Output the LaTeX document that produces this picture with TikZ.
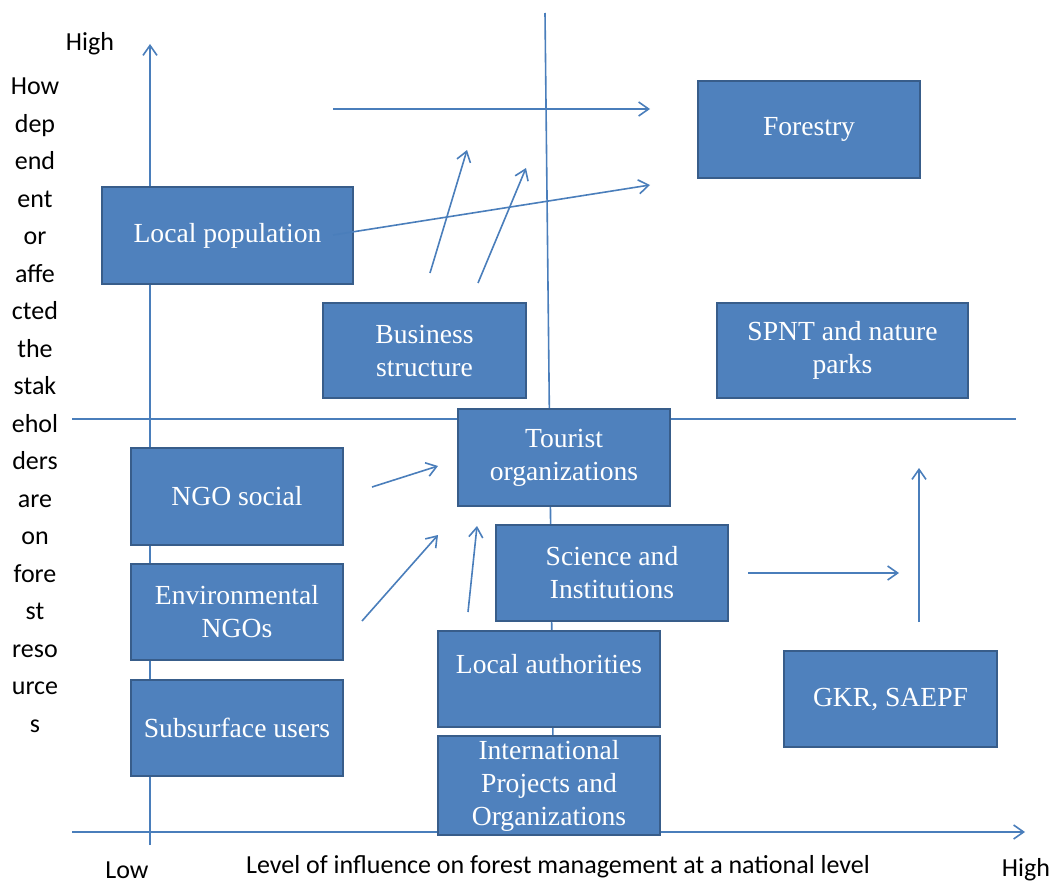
\documentclass[tikz,border=0pt]{standalone}
\usepackage{fontspec}
\setmainfont{Liberation Serif}
\newfontfamily\axisfont{Carlito}
\usepackage{xcolor}
\usetikzlibrary{arrows.meta,positioning,calc}
\definecolor{boxfill}{HTML}{4F81BD}
\definecolor{boxline}{HTML}{385D8A}
\definecolor{linkcol}{HTML}{4A7EBB}

\begin{document}
\begin{tikzpicture}[x=0.5pt,y=-0.5pt,
  stake/.style={draw=boxline,line width=1.4pt,fill=boxfill,text=white,align=center,
    font=\fontsize{13.8}{16.5}\selectfont,inner sep=2pt},
  link/.style={draw=linkcol,line width=0.8pt,-{Straight Barb[length=5pt,width=7pt]}},
  axis/.style={font=\axisfont\fontsize{13}{18.75}\selectfont}]
\useasboundingbox (0,0) rectangle (1054,883);
% axes and quadrant lines
\coordinate (ybot) at (150,845); \coordinate (ytop) at (150,44);
\coordinate (xl) at (72,832);    \coordinate (xr) at (1025,832);
\coordinate (vtop) at (545,13);  \coordinate (vbot) at (554,834);
\coordinate (hl) at (72,419);    \coordinate (hr) at (1016,419);
\draw[link] (ybot) -- (ytop);
\draw[link] (xl) -- (xr);
\draw[draw=linkcol,line width=0.8pt] (vtop) -- (vbot);
\draw[draw=linkcol,line width=0.8pt] (hl) -- (hr);
% stakeholders
\foreach \name/\x/\y/\w/\h/\txt in {
  forestry/809/129.5/222/97/{Forestry},
  locpop/227.5/235.5/251/97/{Local population},
  business/424.5/350.5/203/95/{Business\\structure},
  spnt/842.5/350.5/251/95/{SPNT and nature\\parks},
  tourist/564/457.5/212/97/{Tourist\\organizations},
  ngosoc/237/496.5/212/97/{NGO social},
  science/612/573/232/96/{Science and\\Institutions},
  envngo/237/612/212/96/{Environmental\\NGOs},
  locauth/549/679/222/96/{\raisebox{15pt}{Local authorities}},
  gkr/890.5/699/213/96/{GKR, SAEPF},
  subsurf/237/728/212/96/{Subsurface users},
  intl/549/785.5/222/97/{International\\Projects and\\Organizations}} {
  \node[stake,minimum width=\w*0.5pt,minimum height=\h*0.5pt] (\name) at (\x,\y) {\txt};
}
% influence arrows
\coordinate (a1) at (333,109);  \coordinate (b1) at (650,109);
\coordinate (a2) at (333,235);  \coordinate (b2) at (650,185);
\coordinate (a3) at (430,273);  \coordinate (b3) at (467,150);
\coordinate (a4) at (478,283);  \coordinate (b4) at (526,168);
\coordinate (a5) at (372,487);  \coordinate (b5) at (438,466);
\coordinate (a6) at (362,621);  \coordinate (b6) at (438,535);
\coordinate (a7) at (468,612);  \coordinate (b7) at (477,526);
\coordinate (a8) at (748,573);  \coordinate (b8) at (899,573);
\coordinate (a9) at (919,622);  \coordinate (b9) at (919,468);
\foreach \i in {1,...,9} {
  \draw[link] (a\i) -- (b\i);
}
% axis labels
\node[axis] (yhigh) at (90,44) {High};
\node[axis,align=center] (ylabel) at (35,405) {How\\dep\\end\\ent\\or\\affe\\cted\\the\\stak\\ehol\\ders\\are\\on\\fore\\st\\reso\\urce\\s};
\node[axis] (xlow) at (127,870) {Low};
\node[axis] (xlabel) at (558,867) {Level of influence on forest management at a national level};
\node[axis] (xhigh) at (1026,870) {High};
\end{tikzpicture}
\end{document}
